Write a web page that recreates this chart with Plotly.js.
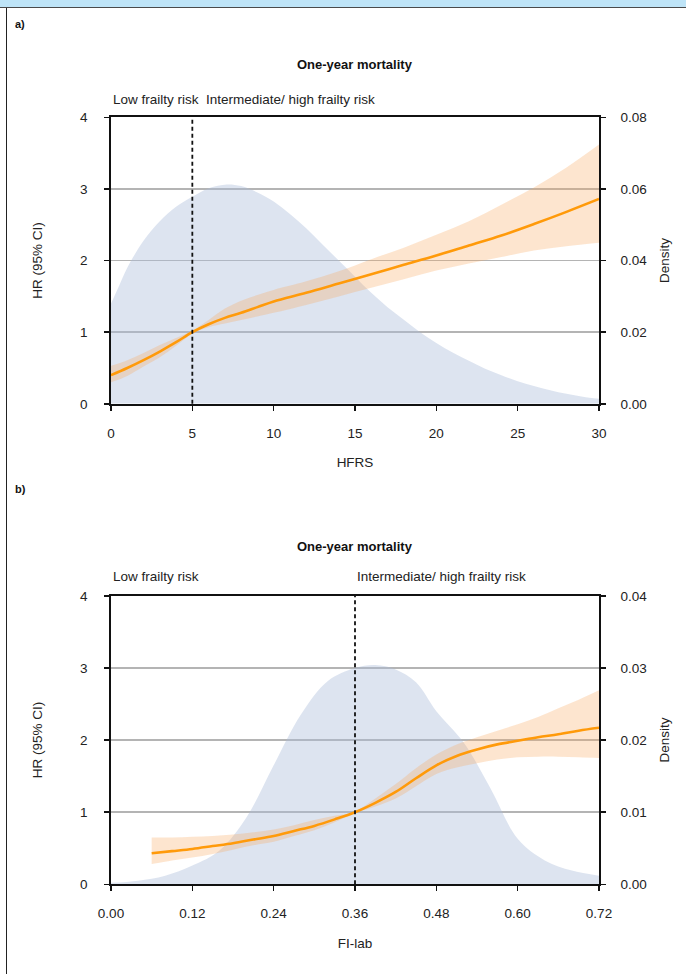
<!DOCTYPE html>
<html>
<head>
<meta charset="utf-8">
<script src="https://cdn.plot.ly/plotly-3.0.1.min.js"></script>
<style>
  html, body { margin: 0; padding: 0; background: #ffffff; }
  #wrap { position: relative; width: 686px; height: 974px; overflow: hidden; background: #fff; }
  #chart { position: absolute; left: 0; top: 0; width: 686px; height: 974px; z-index: 1; }
  #band { position: absolute; left: 0; top: 0; width: 686px; height: 7px; background: #bee4f7; border-bottom: 1px solid #4a4a4a; z-index: 5; }
  #lborder { position: absolute; left: 6px; top: 8px; width: 1px; height: 966px; background: #222; z-index: 5; }
</style>
</head>
<body>
<div id="wrap">
  <div id="chart"></div>
  <div id="band"></div>
  <div id="lborder"></div>
</div>
<script>
// ---------- Panel a) HFRS ----------
const hfrsX  = [0, 1, 2, 3, 4, 5, 6, 7, 8, 9, 10, 12, 14, 16, 18, 20, 22, 24, 26, 28, 30];
const hfrsHR = [0.40, 0.50, 0.61, 0.73, 0.86, 1.00, 1.11, 1.20, 1.27, 1.35, 1.43, 1.55, 1.68, 1.81, 1.94, 2.07, 2.21, 2.35, 2.51, 2.68, 2.86];
const hfrsLo = [0.30, 0.39, 0.52, 0.65, 0.81, 0.98, 1.07, 1.12, 1.17, 1.22, 1.27, 1.38, 1.50, 1.62, 1.74, 1.86, 1.96, 2.05, 2.14, 2.20, 2.25];
const hfrsHi = [0.53, 0.61, 0.71, 0.82, 0.92, 1.02, 1.17, 1.33, 1.44, 1.52, 1.59, 1.71, 1.85, 2.02, 2.18, 2.36, 2.55, 2.78, 3.02, 3.30, 3.62];
const hfrsDensX = [0, 0.5, 1, 2, 3, 4, 5, 6, 7, 8, 9, 10, 11, 12, 13, 14, 15, 16, 17, 18, 19, 20, 21, 22, 23, 24, 25, 26, 27, 28, 29, 30];
const hfrsDens  = [0.028, 0.033, 0.038, 0.0455, 0.051, 0.055, 0.0578, 0.0602, 0.0612, 0.0608, 0.059, 0.0565, 0.053, 0.049, 0.0445, 0.040, 0.0355, 0.031, 0.027, 0.0235, 0.020, 0.017, 0.0143, 0.012, 0.0098, 0.008, 0.0063, 0.005, 0.0038, 0.0028, 0.002, 0.0014];
const hfrsTicks = [0, 5, 10, 15, 20, 25, 30];

// ---------- Panel b) FI-lab ----------
const fiX  = [0.06, 0.09, 0.12, 0.15, 0.18, 0.21, 0.24, 0.27, 0.30, 0.33, 0.36, 0.39, 0.42, 0.45, 0.48, 0.51, 0.54, 0.57, 0.60, 0.63, 0.66, 0.69, 0.72];
const fiHR = [0.43, 0.46, 0.49, 0.53, 0.57, 0.62, 0.67, 0.74, 0.81, 0.90, 1.00, 1.13, 1.28, 1.47, 1.65, 1.78, 1.87, 1.94, 1.99, 2.04, 2.08, 2.13, 2.17];
const fiLo = [0.28, 0.33, 0.37, 0.42, 0.48, 0.54, 0.59, 0.67, 0.75, 0.86, 0.99, 1.08, 1.19, 1.36, 1.53, 1.62, 1.68, 1.73, 1.76, 1.77, 1.77, 1.76, 1.75];
const fiHi = [0.65, 0.65, 0.66, 0.67, 0.69, 0.72, 0.76, 0.82, 0.89, 0.95, 1.01, 1.19, 1.39, 1.61, 1.80, 1.94, 2.04, 2.13, 2.22, 2.32, 2.44, 2.56, 2.69];
const fiDensX = [0, 0.04, 0.08, 0.12, 0.16, 0.20, 0.24, 0.28, 0.32, 0.36, 0.39, 0.42, 0.45, 0.48, 0.52, 0.56, 0.60, 0.64, 0.68, 0.72];
const fiDens  = [0.0002, 0.0005, 0.0012, 0.0026, 0.0047, 0.0093, 0.0165, 0.0235, 0.0282, 0.0300, 0.0304, 0.0298, 0.0280, 0.0240, 0.0197, 0.0133, 0.0063, 0.0033, 0.0019, 0.0012];
const fiTicks = [0.00, 0.12, 0.24, 0.36, 0.48, 0.60, 0.72];
const fiTickText = ["0.00", "0.12", "0.24", "0.36", "0.48", "0.60", "0.72"];

// ---------- shared ----------
const cutoffs = [5, 0.36];
const hrTicks = [0, 1, 2, 3, 4];
const panelLabels = ["a)", "b)"];
const chartTitle = "One-year mortality";
const riskLabels = ["Low frailty risk", "Intermediate/ high frailty risk"];

const FONT = "Liberation Sans, Arial, sans-serif";
const ORANGE = "#ff9a0a";
const CI_FILL = "rgba(248,168,95,0.30)";
const DENS_FILL = "rgba(170,188,218,0.40)";
const FS = 13.5;

function panelTraces(xa, yDens, yHR, dx, dy, x, hr, lo, hi) {
  return [
    { x: dx, y: dy, xaxis: xa, yaxis: yDens, type: "scatter", mode: "lines",
      fill: "tozeroy", fillcolor: DENS_FILL, line: { width: 0, shape: "spline" }, hoverinfo: "skip" },
    { x: x, y: lo, xaxis: xa, yaxis: yHR, type: "scatter", mode: "lines",
      line: { width: 0, shape: "spline" }, hoverinfo: "skip" },
    { x: x, y: hi, xaxis: xa, yaxis: yHR, type: "scatter", mode: "lines",
      fill: "tonexty", fillcolor: CI_FILL, line: { width: 0, shape: "spline" }, hoverinfo: "skip" },
    { x: x, y: hr, xaxis: xa, yaxis: yHR, type: "scatter", mode: "lines",
      line: { color: ORANGE, width: 2.6, shape: "spline" } }
  ];
}

const data = [].concat(
  panelTraces("x", "y", "y2", hfrsDensX, hfrsDens, hfrsX, hfrsHR, hfrsLo, hfrsHi),
  panelTraces("x2", "y3", "y4", fiDensX, fiDens, fiX, fiHR, fiLo, fiHi)
);

const tickFont = { family: FONT, size: FS, color: "#222" };
const titleFont = { family: FONT, size: FS, color: "#222" };

function xAxis(range, tickvals, ticktext, title, anchor) {
  return {
    range: range, domain: [0, 1], anchor: anchor,
    tickvals: tickvals, ticktext: ticktext,
    ticks: "outside", ticklen: 5, tickwidth: 1.5, tickcolor: "#111",
    ticklabelstandoff: 11,
    showline: true, linecolor: "#111", linewidth: 1.8, mirror: true,
    showgrid: false, zeroline: false, tickfont: tickFont,
    title: { text: title, font: titleFont, standoff: 18 }, automargin: true
  };
}
function densAxis(range, dtick, domain, anchor) {
  return {
    range: range, domain: domain, anchor: anchor, side: "right",
    dtick: dtick, tickformat: ".2f",
    ticks: "outside", ticklen: 5, tickwidth: 1.5, tickcolor: "#111",
    ticklabelstandoff: 12,
    showline: true, linecolor: "#111", linewidth: 1.8,
    showgrid: true, gridcolor: "#b4b4b4", gridwidth: 1.5, zeroline: false,
    tickfont: tickFont,
    title: { text: "Density", font: titleFont, standoff: 13 }, automargin: true
  };
}
function hrAxis(overlay, anchor) {
  return {
    range: [0, 4], overlaying: overlay, anchor: anchor, side: "left",
    tickvals: hrTicks,
    ticks: "outside", ticklen: 5, tickwidth: 1.5, tickcolor: "#111",
    ticklabelstandoff: 14,
    showline: true, linecolor: "#111", linewidth: 1.8,
    showgrid: false, zeroline: false, tickfont: tickFont,
    title: { text: "HR (95% CI)", font: titleFont, standoff: 34 }, automargin: true
  };
}

const topDom = [0.5862, 0.8850];
const botDom = [0.0852, 0.3860];

const layout = {
  width: 686, height: 974,
  margin: { l: 111, r: 87, t: 0, b: 0, pad: 0 },
  paper_bgcolor: "rgba(0,0,0,0)", plot_bgcolor: "rgba(0,0,0,0)",
  showlegend: false,
  font: { family: FONT, size: FS, color: "#222" },
  xaxis: xAxis([0, 30], hfrsTicks, hfrsTicks.map(String), "HFRS", "y"),
  yaxis: densAxis([0, 0.08], 0.02, topDom, "x"),
  yaxis2: hrAxis("y", "x"),
  xaxis2: xAxis([0, 0.72], fiTicks, fiTickText, "FI-lab", "y3"),
  yaxis3: densAxis([0, 0.04], 0.01, botDom, "x2"),
  yaxis4: hrAxis("y3", "x2"),
  shapes: [
    { type: "line", xref: "x", yref: "y domain", x0: cutoffs[0], x1: cutoffs[0], y0: 0, y1: 1,
      line: { color: "#111", width: 1.8, dash: "4px,3px" } },
    { type: "line", xref: "x2", yref: "y3 domain", x0: cutoffs[1], x1: cutoffs[1], y0: 0, y1: 1,
      line: { color: "#111", width: 1.8, dash: "4px,3px" } }
  ],
  annotations: [
    { text: "<b>" + panelLabels[0] + "</b>", xref: "paper", yref: "paper", x: -0.201, y: 0.9825,
      xanchor: "left", yanchor: "middle", showarrow: false, font: { family: FONT, size: 11, color: "#111" } },
    { text: "<b>" + panelLabels[1] + "</b>", xref: "paper", yref: "paper", x: -0.201, y: 0.4969,
      xanchor: "left", yanchor: "middle", showarrow: false, font: { family: FONT, size: 11, color: "#111" } },
    { text: "<b>" + chartTitle + "</b>", xref: "paper", yref: "paper", x: 0.5, y: 0.9405,
      xanchor: "center", yanchor: "middle", showarrow: false, font: { family: FONT, size: 13, color: "#111" } },
    { text: "<b>" + chartTitle + "</b>", xref: "paper", yref: "paper", x: 0.5, y: 0.4374,
      xanchor: "center", yanchor: "middle", showarrow: false, font: { family: FONT, size: 13, color: "#111" } },
    { text: riskLabels[0], xref: "paper", yref: "paper", x: 0, y: 0.9035,
      xanchor: "left", yanchor: "middle", showarrow: false, font: titleFont },
    { text: riskLabels[1], xref: "paper", yref: "paper", x: 0.190, y: 0.9035,
      xanchor: "left", yanchor: "middle", showarrow: false, font: titleFont },
    { text: riskLabels[0], xref: "paper", yref: "paper", x: 0, y: 0.4066,
      xanchor: "left", yanchor: "middle", showarrow: false, font: titleFont },
    { text: riskLabels[1], xref: "x2", yref: "paper", x: cutoffs[1], y: 0.4066,
      xanchor: "left", yanchor: "middle", showarrow: false, font: titleFont }
  ]
};

Plotly.newPlot("chart", data, layout, { displayModeBar: false, staticPlot: true });
</script>
</body>
</html>
